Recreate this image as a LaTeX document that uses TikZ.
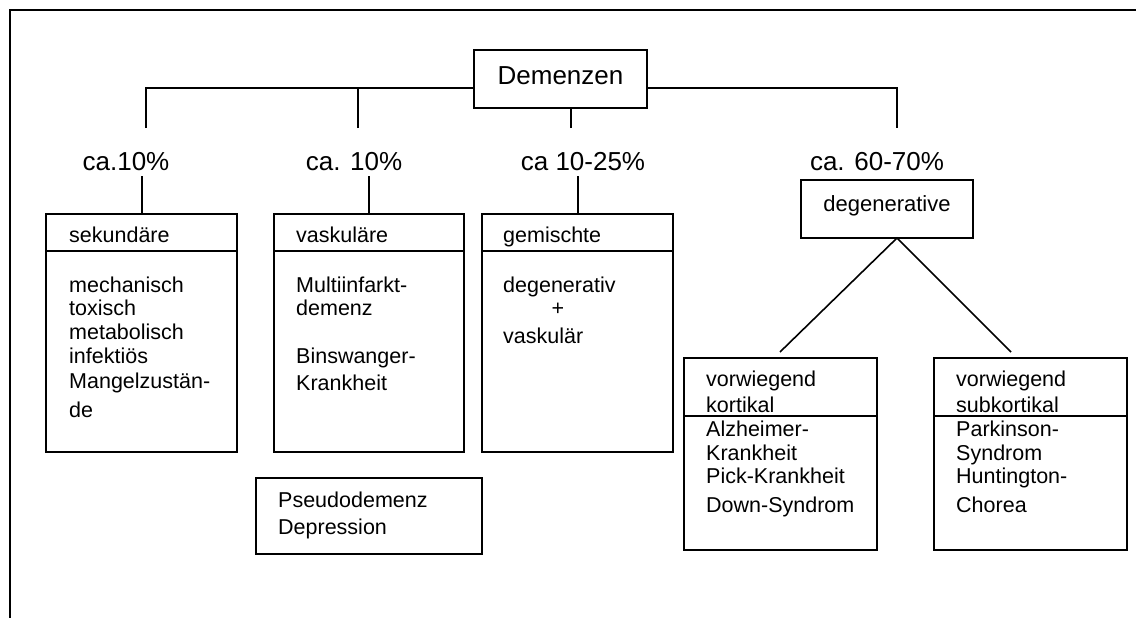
\documentclass[tikz,border=0pt]{standalone}
\usepackage{fontspec}
\setmainfont{Liberation Sans}
\begin{document}
\begin{tikzpicture}[x=1pt,y=-1pt,
  ln/.style={line width=2pt, draw=black},
  diag/.style={line width=1.6pt, draw=black},
  frame/.style={draw=black, line width=2pt, rectangle, inner sep=0pt, outer sep=0pt},
  txt/.style={inner sep=0pt, anchor=base west, font=\fontsize{21.5}{24}\selectfont},
  txtc/.style={inner sep=0pt, anchor=base, font=\fontsize{21.5}{24}\selectfont},
  big/.style={inner sep=0pt, anchor=base, font=\fontsize{26}{30}\selectfont},
]
\useasboundingbox (0,0) rectangle (1136,618);
\fill[white] (0,0) rectangle (1136,618);

% outer frame (partially visible)
\coordinate (fbl) at (10,618);
\coordinate (ftl) at (10,10.5);
\coordinate (ftr) at (1136,10.5);
\draw[ln] (fbl) -- (ftl) -- (ftr);

% root
\node[frame, minimum width=173pt, minimum height=58pt, text depth=6pt,
      font=\fontsize{26}{30}\selectfont] (dem) at (560.5,79) {Demenzen};

% branch ends
\coordinate (b1) at (146,128);
\coordinate (b2) at (358,128);
\coordinate (b3) at (571,128);
\coordinate (b4) at (897,128);
\draw[ln] (b1) |- (dem.west |- 0,88);
\draw[ln] (b2) -- (b2 |- 0,88);
\draw[ln] (dem.east |- 0,88) -| (b4);
\draw[ln] (b3) -- (b3 |- dem.south);

% percentage labels
\node[big] (p1) at (126,170) {ca.10\%};
\node[big] (p2) at (354,170) {ca. 10\%};
\node[big] (p3) at (583,170) {ca 10-25\%};
\node[big] (p4) at (877,170) {ca. 60-70\%};

% category boxes
\node[frame, anchor=north west, minimum width=191pt, minimum height=238pt] (sek) at (46,214) {};
\node[frame, anchor=north west, minimum width=190pt, minimum height=238pt] (vas) at (274,214) {};
\node[frame, anchor=north west, minimum width=191pt, minimum height=238pt] (gem) at (482,214) {};
\draw[ln] (sek.west |- 0,251) -- (sek.east |- 0,251);
\draw[ln] (vas.west |- 0,251) -- (vas.east |- 0,251);
\draw[ln] (gem.west |- 0,251) -- (gem.east |- 0,251);

\draw[ln] (sek.north) -- (sek.north |- 0,176);
\draw[ln] (vas.north) -- (vas.north |- 0,176);
\draw[ln] (gem.north) -- (gem.north |- 0,176);

% sekundaere
\node[txt] (s0) at (69,242) {sekundäre};
\node[txt] (s1) at (69,292) {mechanisch};
\node[txt] (s2) at (69,315) {toxisch};
\node[txt] (s3) at (69,339) {metabolisch};
\node[txt] (s4) at (69,363) {infektiös};
\node[txt] (s5) at (69,388) {Mangelzustän-};
\node[txt] (s6) at (69,417) {de};

% vaskulaere
\node[txt] (v0) at (296,242) {vaskuläre};
\node[txt] (v1) at (296,292) {Multiinfarkt-};
\node[txt] (v2) at (296,315) {demenz};
\node[txt] (v3) at (296,363) {Binswanger-};
\node[txt] (v4) at (296,390) {Krankheit};

% gemischte
\node[txt] (g0) at (503,242) {gemischte};
\node[txt] (g1) at (503,292) {degenerativ};
\node[txtc] (g2) at (558,315) {+};
\node[txt] (g3) at (503,343) {vaskulär};

% pseudodemenz
\node[frame, anchor=north west, minimum width=226pt, minimum height=76pt] (pse) at (256,478) {};
\node[txt] (ps1) at (278,507) {Pseudodemenz};
\node[txt] (ps2) at (278,534) {Depression};

% degenerative
\node[frame, minimum width=172pt, minimum height=58pt, text depth=10pt,
      font=\fontsize{22}{26}\selectfont] (deg) at (887,209) {degenerative};
\coordinate (apex) at (897,238);
\coordinate (kl) at (780,352);
\coordinate (kr) at (1011,352);
\draw[diag] (kl) -- (apex) -- (kr);

% kortikal / subkortikal
\node[frame, anchor=north west, minimum width=193pt, minimum height=192pt] (kor) at (684,358) {};
\node[frame, anchor=north west, minimum width=193pt, minimum height=192pt] (sub) at (934,358) {};
\draw[ln] (kor.west |- 0,416) -- (kor.east |- 0,416);
\draw[ln] (sub.west |- 0,416) -- (sub.east |- 0,416);

\node[txt] (k0) at (706,386) {vorwiegend};
\node[txt] (k1) at (706,412) {kortikal};
\node[txt] (k2) at (706,436) {Alzheimer-};
\node[txt] (k3) at (706,460) {Krankheit};
\node[txt] (k4) at (706,483) {Pick-Krankheit};
\node[txt] (k5) at (706,512) {Down-Syndrom};

\node[txt] (u0) at (956,386) {vorwiegend};
\node[txt] (u1) at (956,412) {subkortikal};
\node[txt] (u2) at (956,436) {Parkinson-};
\node[txt] (u3) at (956,460) {Syndrom};
\node[txt] (u4) at (956,483) {Huntington-};
\node[txt] (u5) at (956,512) {Chorea};
\end{tikzpicture}
\end{document}
